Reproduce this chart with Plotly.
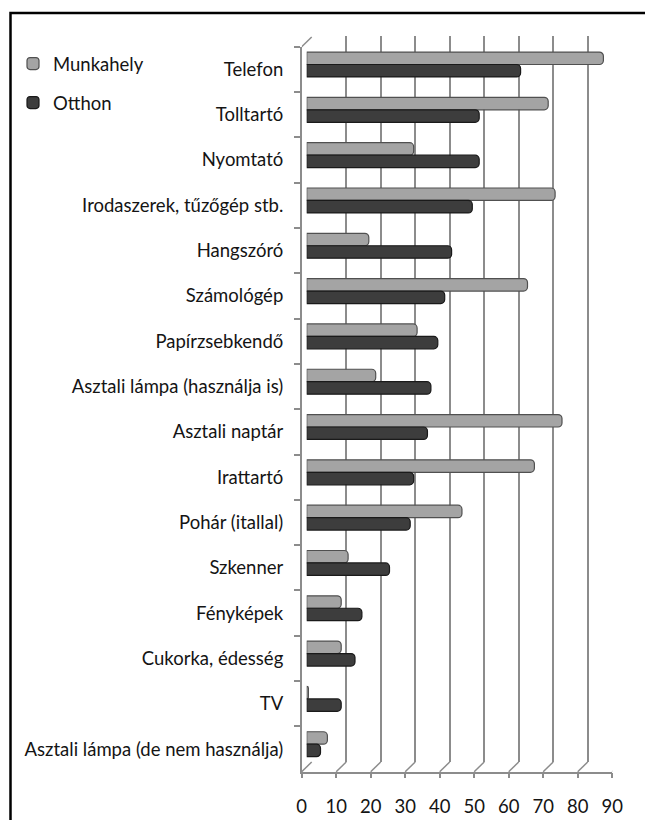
import plotly.graph_objects as go

# Categories, top to bottom
categories = [
    "Telefon",
    "Tolltartó",
    "Nyomtató",
    "Irodaszerek, tűzőgép stb.",
    "Hangszóró",
    "Számológép",
    "Papírzsebkendő",
    "Asztali lámpa (használja is)",
    "Asztali naptár",
    "Irattartó",
    "Pohár (itallal)",
    "Szkenner",
    "Fényképek",
    "Cukorka, édesség",
    "TV",
    "Asztali lámpa (de nem használja)",
]

munkahely = [86, 70, 31, 72, 18, 64, 32, 20, 74, 66, 45, 12, 10, 10, 0.5, 6]
otthon = [62, 50, 50, 48, 42, 40, 38, 36, 35, 31, 30, 24, 16, 14, 10, 4]

x_ticks = list(range(0, 91, 10))

W, H = 645, 820
FONT = "Lato"


def px_x(v):
    return v / W


def px_y(v):
    return 1 - v / H


# Pseudo-3D box: back wall, bar plane (middle) and front axes
FRONT_LEFT, FRONT_RIGHT = 301.7, 612.2
FRONT_TOP, FRONT_BOTTOM = 46.7, 771.7
DEPTH_X, DEPTH_Y = 10.0, 9.7
UNIT = (FRONT_RIGHT - FRONT_LEFT) / 90.0  # pixels per value unit

fig = go.Figure()

# back wall (grid only)
fig.add_trace(go.Scatter(x=[0], y=[0], mode="markers", marker=dict(opacity=0),
                         showlegend=False, hoverinfo="skip", xaxis="x", yaxis="y"))

# bars in the middle plane
fig.add_trace(go.Bar(name="Munkahely", y=categories, x=munkahely, orientation="h",
                     marker=dict(color="#a4a4a4", line=dict(color="#505050", width=1.2),
                                 cornerradius=4),
                     xaxis="x2", yaxis="y2", legendgroup="m"))
fig.add_trace(go.Bar(name="Otthon", y=categories, x=otthon, orientation="h",
                     marker=dict(color="#3d3d3d", line=dict(color="#1a1a1a", width=1.2),
                                 cornerradius=4),
                     xaxis="x2", yaxis="y2", legendgroup="o"))

# front axes carrying the labels
fig.add_trace(go.Scatter(x=[0] * len(categories), y=categories, mode="markers",
                         marker=dict(opacity=0), showlegend=False, hoverinfo="skip",
                         xaxis="x3", yaxis="y3"))

grid_col = "#8c8c8c"

fig.update_layout(
    width=W, height=H,
    margin=dict(l=0, r=0, t=0, b=0, autoexpand=False),
    paper_bgcolor="white", plot_bgcolor="rgba(0,0,0,0)",
    font=dict(family=FONT, size=18, color="#141414"),
    barmode="group", bargap=0.45, bargroupgap=0.0,
    xaxis=dict(domain=[px_x(FRONT_LEFT + DEPTH_X), px_x(FRONT_RIGHT + DEPTH_X)],
               range=[0, 90], tickvals=x_ticks, showgrid=True, gridcolor=grid_col,
               gridwidth=1.5, showticklabels=False, ticks="", zeroline=False,
               showline=False, anchor="y", fixedrange=True, automargin=False),
    yaxis=dict(domain=[px_y(FRONT_BOTTOM - DEPTH_Y), px_y(FRONT_TOP - DEPTH_Y - 1.5)],
               range=[0, 1], showgrid=False, showticklabels=False, zeroline=False,
               showline=False, anchor="x", automargin=False),
    xaxis2=dict(domain=[px_x(FRONT_LEFT + DEPTH_X / 2), px_x(FRONT_RIGHT + DEPTH_X / 2)],
                range=[0, 90], showgrid=False, showticklabels=False, zeroline=False,
                showline=False, anchor="y2", automargin=False),
    yaxis2=dict(domain=[px_y(FRONT_BOTTOM - DEPTH_Y / 2), px_y(FRONT_TOP - DEPTH_Y / 2)],
                type="category", categoryarray=categories, categoryorder="array",
                range=[len(categories) - 0.5, -0.5], showgrid=False,
                showticklabels=False, zeroline=False, showline=False, anchor="x2",
                automargin=False),
    xaxis3=dict(domain=[px_x(FRONT_LEFT), px_x(FRONT_RIGHT)], range=[0, 90],
                tickvals=x_ticks, ticks="outside", ticklen=5, tickcolor=grid_col,
                tickwidth=1.5, showline=True, linecolor=grid_col, linewidth=1.5,
                showgrid=False, zeroline=False, anchor="y3", ticklabelstandoff=12,
                tickfont=dict(size=18.5), automargin=False),
    yaxis3=dict(domain=[px_y(FRONT_BOTTOM), px_y(FRONT_TOP)], type="category",
                categoryarray=categories, categoryorder="array",
                range=[len(categories) - 0.5, -0.5], tickson="boundaries",
                ticks="outside", ticklen=6, tickcolor=grid_col, tickwidth=1.5,
                showline=True, linecolor=grid_col, linewidth=1.5, showgrid=False,
                zeroline=False, anchor="x3", ticklabelstandoff=13,
                tickfont=dict(size=18.5), automargin=False),
    legend=dict(x=px_x(13), y=px_y(45), xanchor="left", yanchor="top",
                bgcolor="rgba(0,0,0,0)", font=dict(size=18.5),
                traceorder="grouped", tracegroupgap=12, itemwidth=30),
    showlegend=True,
)

shapes = []
# floor edges joining back gridlines to front ticks
for v in x_ticks:
    shapes.append(dict(type="line", xref="x3", yref="paper",
                       x0=v, y0=px_y(FRONT_BOTTOM),
                       x1=v + DEPTH_X / UNIT, y1=px_y(FRONT_BOTTOM - DEPTH_Y),
                       line=dict(color=grid_col, width=1.5), layer="below"))
# top-left corner of the side wall
shapes.append(dict(type="line", xref="x3", yref="paper",
                   x0=0, y0=px_y(FRONT_TOP), x1=DEPTH_X / UNIT, y1=px_y(FRONT_TOP - DEPTH_Y),
                   line=dict(color=grid_col, width=1.5), layer="below"))
# outer frame
shapes.append(dict(type="rect", xref="paper", yref="paper",
                   x0=px_x(10.5), y0=-0.05, x1=1.05, y1=px_y(13),
                   line=dict(color="black", width=2.5), fillcolor="rgba(0,0,0,0)"))
fig.update_layout(shapes=shapes)

fig.write_html("out.html")
